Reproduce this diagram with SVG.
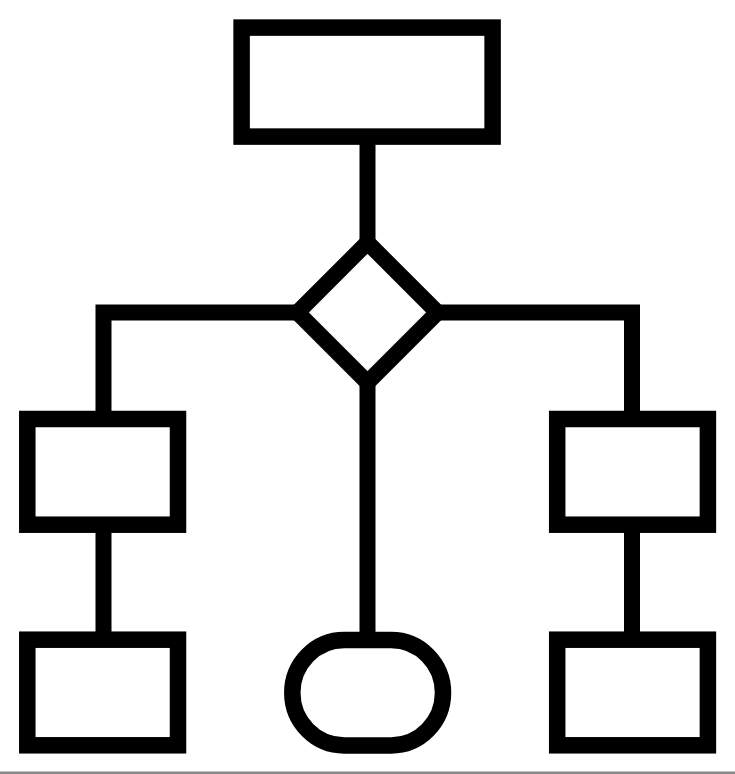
<svg xmlns="http://www.w3.org/2000/svg" width="735" height="774" viewBox="0 0 735 774">
<style>
.n{fill:#fff;stroke:#000;stroke-width:16.5}
.c{fill:none;stroke:#000;stroke-width:16;stroke-linejoin:miter}
</style>
<rect width="735" height="774" fill="#fff"/>
<g id="connectors" class="c">
<path d="M367.5 137V312"/>
<path d="M367.5 312.5H103.5V420"/>
<path d="M367.5 312.5H632V420"/>
<path d="M103.5 524V641"/>
<path d="M632 524V641"/>
<path d="M367.5 312V641"/>
</g>
<g id="top"><rect class="n" x="241.6" y="27.6" width="251" height="109"/></g>
<g id="decision"><polygon class="n" style="stroke-width:16;stroke-linejoin:bevel" points="367.5,242.5 437.5,312.5 367.5,382.5 297.5,312.5"/></g>
<g id="left-mid"><rect class="n" x="27.3" y="419" width="150.7" height="105.7"/></g>
<g id="right-mid"><rect class="n" x="557.2" y="419" width="150.7" height="105.7"/></g>
<g id="left-bottom"><rect class="n" x="27.3" y="639.7" width="150.7" height="105.6"/></g>
<g id="right-bottom"><rect class="n" x="557.2" y="639.7" width="150.7" height="105.6"/></g>
<g id="terminal"><rect class="n" x="292.3" y="640" width="150.7" height="105.5" rx="52" ry="52.7"/></g>
<rect x="0" y="771.5" width="735" height="2.5" fill="#8a8a8a"/>
</svg>
